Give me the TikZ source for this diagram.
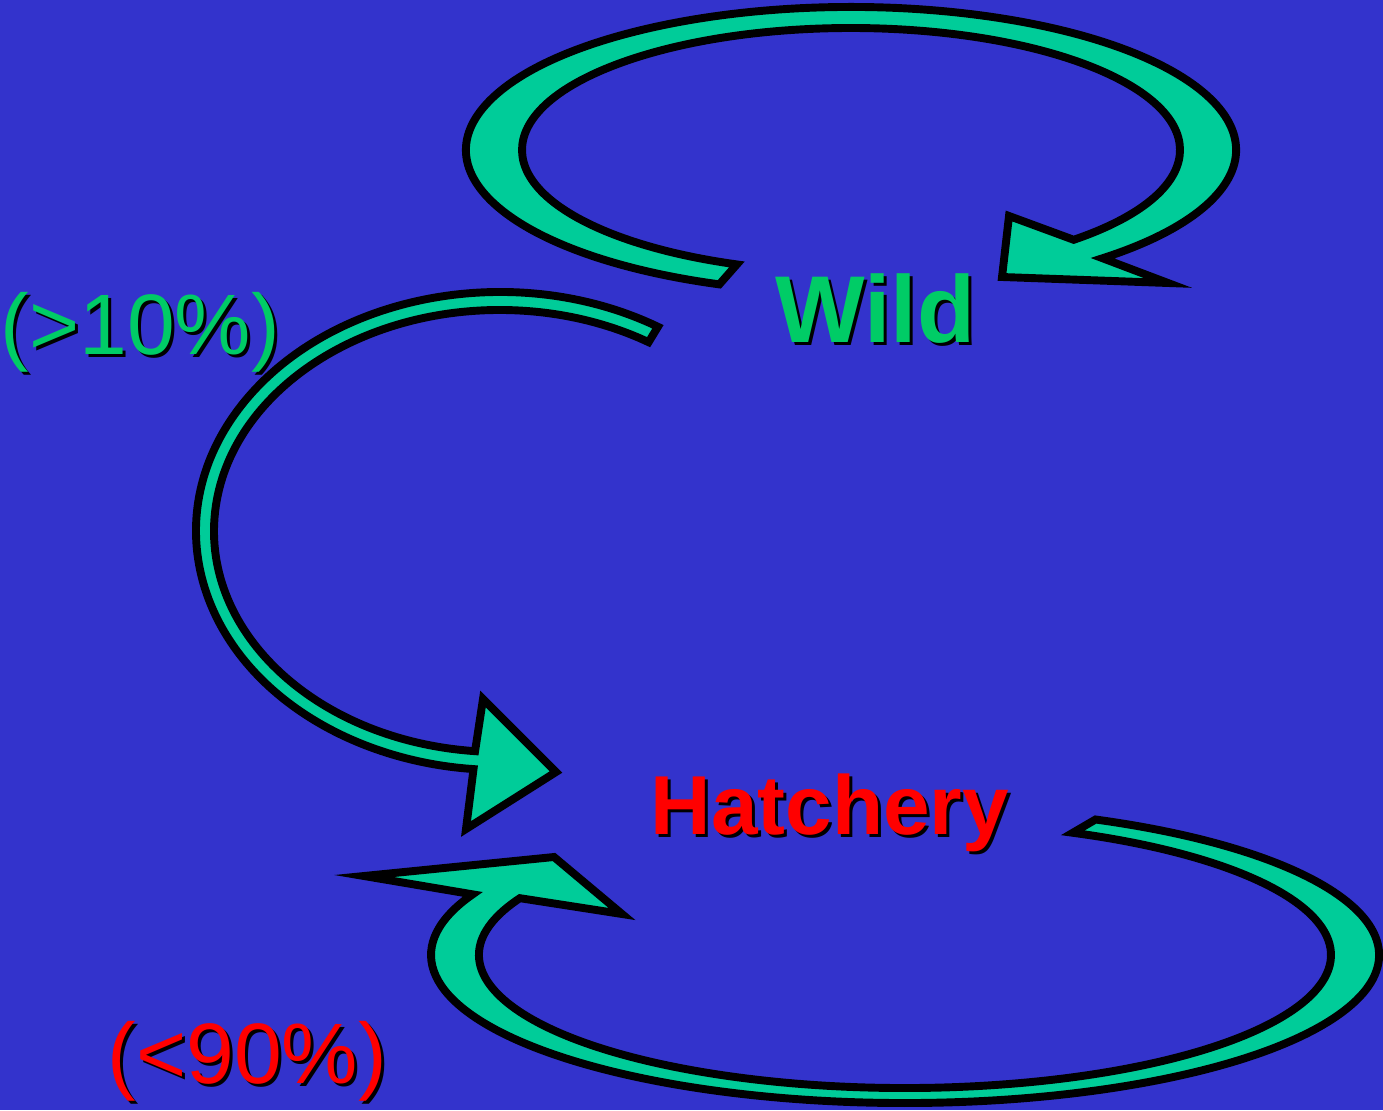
\documentclass[tikz,border=0pt]{standalone}
\usepackage{fontspec}
\setmainfont{Liberation Sans}
\usetikzlibrary{calc}
\definecolor{slidebg}{RGB}{51,51,204}
\definecolor{loopfill}{RGB}{0,204,153}
\definecolor{wildgreen}{RGB}{0,204,102}
\definecolor{hatchred}{RGB}{255,0,0}

\begin{document}
\begin{tikzpicture}[x=0.01cm,y=-0.01cm,
  looparrow/.style={draw=black,line width=2.25pt,fill=loopfill,line join=miter},
  wildword/.style={font=\bfseries\fontsize{27}{32}\selectfont,inner sep=0pt,anchor=base west},
  hatchword/.style={font=\bfseries\fontsize{23.8}{28}\selectfont,inner sep=0pt,anchor=base west},
  shareword/.style={font=\fontsize{24.4}{29}\selectfont,inner sep=0pt,anchor=base west}]
\fill[slidebg] (0,0) rectangle (1383,1110);
\useasboundingbox (0,0) rectangle (1383,1110);
\coordinate (topc) at (851,150);
\coordinate (midc) at (500,531);
\coordinate (lowc) at (905,955);

\draw[looparrow] ($(topc)+(110:385 and 143)$) arc[start angle=110,end angle=409.2,x radius=385,y radius=143]
  -- (1168,283) -- (1002,277) -- (1009,216)
  -- ($(topc)+(407.4:329 and 122)$) arc[start angle=407.4,end angle=110.3,x radius=329,y radius=122] -- cycle;
\draw[looparrow] ($(midc)+(-58.7:304 and 239)$) arc[start angle=-58.7,end angle=-265,x radius=304,y radius=239]
  -- (466,829) -- (556,772) -- (483,699)
  -- ($(midc)+(-265:286 and 221)$) arc[start angle=-265,end angle=-58.7,x radius=286,y radius=221] -- cycle;
\draw[looparrow] ($(lowc)+(-66.3:474 and 148)$) arc[start angle=-66.3,end angle=204.2,x radius=474,y radius=148]
  -- (364,876) -- (554,857) -- (622,914)
  -- ($(lowc)+(205.3:426 and 133)$) arc[start angle=205.3,end angle=-66.8,x radius=426,y radius=133] -- cycle;

\node[wildword,text=black] (wildshade) at (778,346) {Wild};
\node[wildword,text=wildgreen] (wild) at (775,343) {Wild};
\node[hatchword,text=black] (hatchshade) at (653,837) {Hatchery};
\node[hatchword,text=hatchred] (hatch) at (650,834) {Hatchery};
\node[shareword,text=black] (upshade) at (3,358) {(>10\%)};
\node[shareword,text=wildgreen] (up) at (0,355) {(>10\%)};
\node[shareword,text=black] (downshade) at (110,1086) {(<90\%)};
\node[shareword,text=hatchred] (down) at (107,1083) {(<90\%)};
\end{tikzpicture}
\end{document}
